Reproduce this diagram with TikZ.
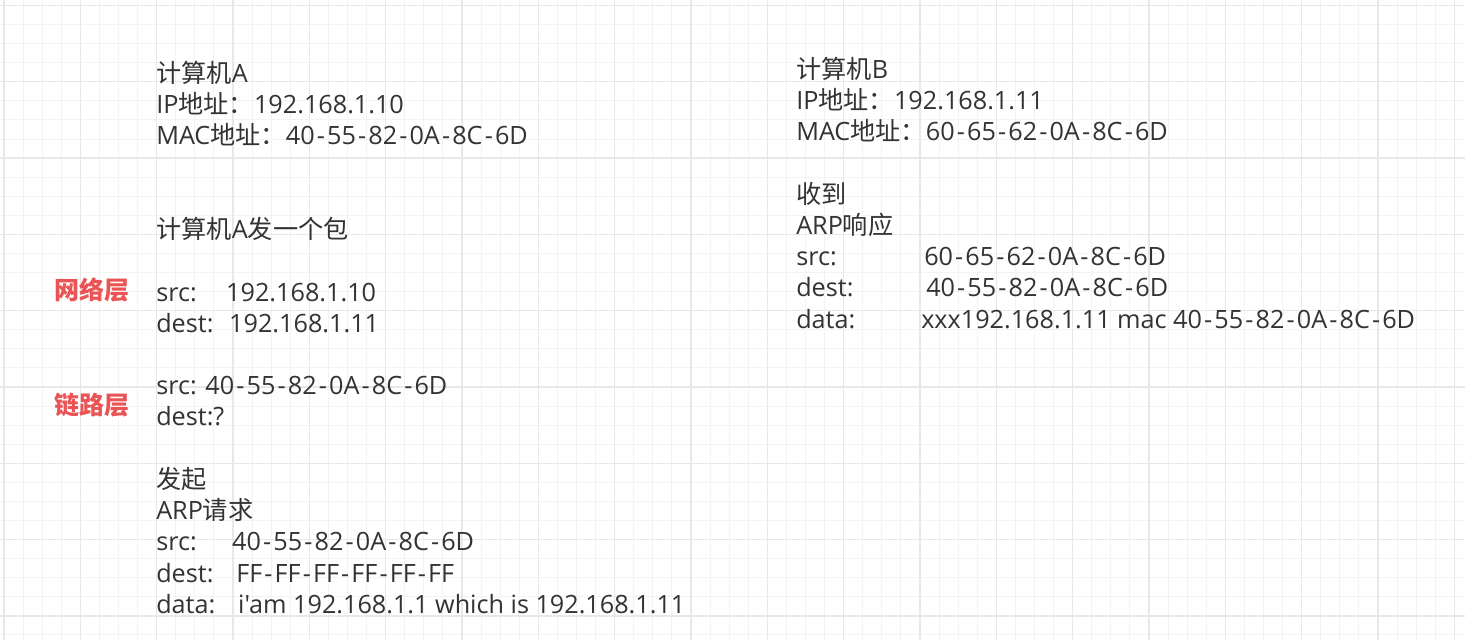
\documentclass[tikz,border=0pt]{standalone}
\usepackage{fontspec}
\setmainfont{Open Sans}[Ligatures=TeXOff]
\newfontfamily\cjk{Noto Sans CJK SC}
\definecolor{txt}{HTML}{333333}
\definecolor{lbl}{HTML}{EA5455}
\definecolor{gminor}{HTML}{F3F3F3}
\definecolor{gmajor}{HTML}{E8E8E8}
\newcommand{\tb}[2]{\makebox[#1][l]{#2}}
\newcommand{\hy}{\kern1.6pt-\kern1.6pt}
\tikzset{
  block/.style={anchor=base west, inner sep=0pt, align=left, text=txt,
    font=\fontsize{18.9}{23.43}\selectfont},
  layer/.style={inner sep=0pt, text=lbl, font=\fontsize{18.75}{23.43}\selectfont\cjk\bfseries},
  minorline/.style={gminor, line width=0.75pt},
  majorline/.style={gmajor, line width=1pt}
}
\begin{document}
\begin{tikzpicture}[x=0.75pt,y=-0.75pt]
\useasboundingbox (0,0) rectangle (1465,640);
\fill[white] (0,0) rectangle (1465,640);
% grid
\foreach \i [evaluate=\i as \xx using 4+19.083*\i] in {0,...,76}
  \draw[minorline] (\xx,0) -- (\xx,640);
\foreach \j [evaluate=\j as \yy using 5.5+19.075*\j] in {0,...,33}
  \draw[minorline] (0,\yy) -- (1465,\yy);
\foreach \i [evaluate=\i as \xx using 4+76.333*\i] in {0,...,19}
  \draw[majorline] (\xx,0) -- (\xx,640);
\foreach \j [evaluate=\j as \yy using 5.5+76.3*\j] in {0,...,8}
  \draw[majorline] (0,\yy) -- (1465,\yy);
% left column (anchor at baseline of last line)
\node[block] (hostA) at (156,613.4) {%
{\cjk 计算机}A\\
IP{\cjk 地址：}192.168.1.10\\
MAC{\cjk 地址：}40\hy55\hy82\hy0A\hy8C\hy6D\\
\strut\\
\strut\\
{\cjk 计算机}A{\cjk 发一个包}\\
\strut\\
\tb{52.5pt}{src:}192.168.1.10\\
\tb{54.75pt}{dest:}192.168.1.11\\
\strut\\
src: 40\hy55\hy82\hy0A\hy8C\hy6D\\
dest:?\\
\strut\\
{\cjk 发起}\\
ARP{\cjk 请求}\\
\tb{57pt}{src:}40\hy55\hy82\hy0A\hy8C\hy6D\\
\tb{60pt}{dest:}FF\hy FF\hy FF\hy FF\hy FF\hy FF\\
\tb{61.5pt}{data:}i'am 192.168.1.1 which is 192.168.1.11};
% right column
\node[block] (hostB) at (796,328.2) {%
{\cjk 计算机}B\\
IP{\cjk 地址：}192.168.1.11\\
MAC{\cjk 地址：}60\hy65\hy62\hy0A\hy8C\hy6D\\
\strut\\
{\cjk 收到}\\
ARP{\cjk 响应}\\
\tb{96pt}{src:}60\hy65\hy62\hy0A\hy8C\hy6D\\
\tb{97.5pt}{dest:}40\hy55\hy82\hy0A\hy8C\hy6D\\
\tb{93.75pt}{data:}xxx192.168.1.11 mac 40\hy55\hy82\hy0A\hy8C\hy6D};
% layer labels
\node[layer] (net) at (92,290) {网络层};
\node[layer] (link) at (92,405) {链路层};
\end{tikzpicture}
\end{document}
